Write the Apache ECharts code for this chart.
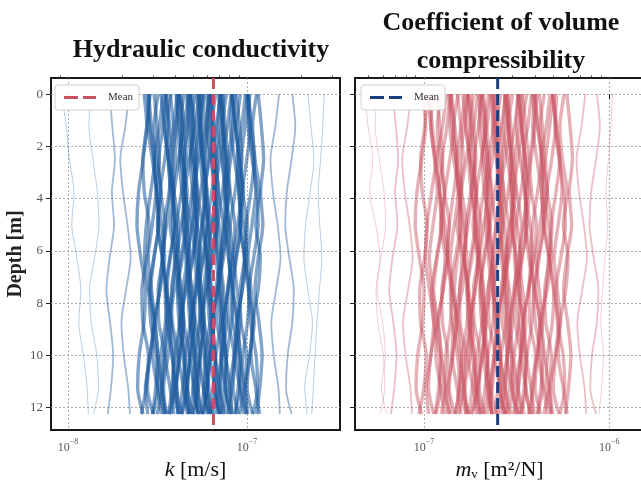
<!DOCTYPE html>
<html>
<head>
<meta charset="utf-8">
<script src="https://cdn.jsdelivr.net/npm/echarts@6/dist/echarts.min.js"></script>
<style>html,body{margin:0;padding:0;background:#fff}#c{width:641px;height:480px}</style>
</head>
<body>
<div id="c"></div>
<script>
// Depth levels of each realization [m]
const depths = [0, 1.25, 2.5, 3.75, 5, 6.25, 7.5, 8.75, 10, 11.25, 12.25];

// Hydraulic conductivity realizations, in units of 1e-8 m/s
const kUnit = 1e-8;
const kProfiles = [
  [0.92,0.98,1.02,1.08,1.05,1.12,1.18,1.15,1.22,1.28,1.30],
  [1.34,1.31,1.38,1.46,1.49,1.41,1.32,1.35,1.45,1.48,1.39],
  [1.71,1.77,1.83,1.76,1.81,1.71,1.64,1.72,1.79,1.74,1.67],
  [2.19,2.09,1.96,2.03,2.15,2.24,2.11,1.99,2.05,2.17,2.22],
  [2.66,2.76,2.63,2.48,2.43,2.55,2.71,2.66,2.50,2.45,2.63],
  [2.82,2.93,3.05,2.90,2.74,2.68,2.82,2.99,2.88,2.71,2.79],
  [2.87,2.81,2.96,3.14,3.20,3.02,2.84,2.90,3.11,3.17,2.99],
  [3.03,3.15,3.24,3.12,3.21,3.03,2.90,3.06,3.18,3.09,2.97],
  [3.40,3.24,3.05,3.14,3.34,3.47,3.27,3.08,3.18,3.37,3.43],
  [3.50,3.64,3.47,3.26,3.20,3.37,3.57,3.50,3.30,3.23,3.47],
  [3.56,3.70,3.84,3.67,3.45,3.38,3.56,3.77,3.63,3.42,3.52],
  [3.53,3.46,3.64,3.86,3.93,3.71,3.49,3.57,3.82,3.89,3.68],
  [3.73,3.89,4.00,3.85,3.96,3.73,3.58,3.77,3.92,3.81,3.66],
  [4.08,3.89,3.66,3.77,4.01,4.16,3.93,3.70,3.81,4.05,4.12],
  [4.20,4.37,4.16,3.92,3.84,4.04,4.28,4.20,3.96,3.88,4.16],
  [4.17,4.34,4.50,4.30,4.04,3.96,4.17,4.42,4.25,4.00,4.13],
  [4.14,4.06,4.27,4.53,4.61,4.36,4.10,4.18,4.48,4.57,4.31],
  [4.28,4.46,4.59,4.41,4.54,4.28,4.11,4.33,4.50,4.37,4.20],
  [4.69,4.47,4.20,4.34,4.60,4.78,4.51,4.25,4.38,4.65,4.74],
  [4.82,5.01,4.77,4.49,4.40,4.63,4.91,4.82,4.54,4.45,4.77],
  [4.79,4.98,5.17,4.93,4.65,4.55,4.79,5.08,4.89,4.60,4.74],
  [4.75,4.66,4.90,5.19,5.29,5.00,4.70,4.80,5.15,5.24,4.95],
  [4.92,5.12,5.27,5.07,5.22,4.92,4.72,4.97,5.17,5.02,4.82],
  [5.39,5.13,4.82,4.98,5.28,5.49,5.18,4.87,5.03,5.34,5.44],
  [5.41,5.62,5.36,5.04,4.94,5.20,5.51,5.41,5.09,4.99,5.36],
  [5.37,5.58,5.80,5.53,5.21,5.10,5.37,5.69,5.48,5.16,5.32],
  [5.46,5.35,5.63,5.97,6.08,5.74,5.40,5.52,5.91,6.02,5.69],
  [5.64,5.88,6.05,5.82,5.99,5.64,5.41,5.70,5.93,5.76,5.53],
  [6.18,5.89,5.54,5.71,6.07,6.30,5.95,5.60,5.77,6.13,6.24],
  [6.21,6.45,6.15,5.79,5.67,5.97,6.33,6.21,5.85,5.73,6.15],
  [6.17,6.42,6.66,6.36,5.98,5.86,6.17,6.54,6.29,5.92,6.11],
  [6.12,5.99,6.31,6.69,6.81,6.44,6.06,6.18,6.63,6.75,6.37],
  [6.33,6.59,6.78,6.52,6.72,6.33,6.07,6.40,6.65,6.46,6.20],
  [7.11,6.77,6.36,6.57,6.97,7.24,6.84,6.43,6.63,7.04,7.18],
  [7.13,7.40,7.06,6.64,6.50,6.85,7.27,7.13,6.71,6.57,7.06],
  [7.08,7.36,7.65,7.29,6.87,6.73,7.08,7.50,7.22,6.80,7.01],
  [7.03,6.89,7.25,7.69,7.83,7.40,6.96,7.11,7.61,7.76,7.32],
  [7.27,7.57,7.79,7.49,7.72,7.27,6.97,7.35,7.64,7.42,7.12],
  [8.16,7.77,7.30,7.54,8.00,8.31,7.85,7.38,7.61,8.08,8.24],
  [8.19,8.51,8.11,7.63,7.47,7.87,8.35,8.19,7.71,7.55,8.11],
  [8.32,8.65,8.99,8.57,8.07,7.90,8.32,8.82,8.49,7.99,8.24],
  [8.26,8.09,8.52,9.03,9.20,8.69,8.18,8.35,8.95,9.12,8.61],
  [8.74,9.10,9.37,9.01,9.28,8.74,8.38,8.83,9.19,8.92,8.56],
  [9.81,9.34,8.78,9.06,9.62,9.99,9.43,8.87,9.15,9.71,9.90],
  [10.07,10.46,9.98,9.39,9.19,9.68,10.27,10.07,9.49,9.29,9.98],
  [10.20,10.61,11.02,10.51,9.89,9.69,10.20,10.81,10.40,9.79,10.10],
  [10.38,10.17,10.70,11.34,11.56,10.91,10.27,10.49,11.24,11.45,10.81],
  [11.56,12.04,12.39,11.92,12.27,11.56,11.09,11.68,12.15,11.80,11.33],
  [15.12,14.40,13.54,13.97,14.83,15.41,14.54,13.68,14.11,14.98,15.26],
  [17.92,18.62,17.75,16.70,16.36,17.23,18.27,17.92,16.88,16.53,17.75],
  [21.90,22.78,23.65,22.56,21.24,20.81,21.90,23.21,22.34,21.02,21.68],
  [27.0,26.5,25.8,25.0,25.5,26.2,25.4,24.6,24.0,23.5,23.0]
];
// Visual density class of each k realization above: 0 = tail, 1 = shoulder, 2 = core
const kDensityClass = [0,0,1,1, 2,2,2,2,2,2,2,2,2,2,2,2,2,2,2,2,2,2,2,2,2,2,2,2,2,2,2,2,2,2,2,2,2,2,2,2,2,2,2,2,2,2,2,2, 1,1, 0,0];
// Further k realizations inside the dense core (1e-8 m/s)
const kProfilesCore = [
  [2.86,2.75,2.62,2.67,2.84,2.75,2.59,2.62,2.81,2.73,2.57],
  [2.76,2.87,3.02,3.10,2.96,2.81,2.93,3.05,2.87,2.78,2.99],
  [3.19,3.03,3.13,3.32,3.16,3.35,3.25,3.03,2.97,3.16,3.32],
  [3.52,3.39,3.22,3.29,3.49,3.39,3.19,3.22,3.45,3.35,3.15],
  [3.31,3.45,3.62,3.72,3.55,3.38,3.51,3.65,3.45,3.34,3.58],
  [3.76,3.57,3.68,3.91,3.72,3.94,3.83,3.57,3.50,3.72,3.91],
  [4.19,4.03,3.83,3.91,4.15,4.03,3.79,3.83,4.11,3.99,3.75],
  [4.01,4.18,4.39,4.52,4.30,4.09,4.26,4.43,4.18,4.05,4.35],
  [4.46,4.24,4.38,4.64,4.42,4.69,4.55,4.24,4.15,4.42,4.64],
  [4.85,4.67,4.44,4.53,4.81,4.67,4.40,4.44,4.76,4.63,4.35],
  [4.61,4.80,5.04,5.19,4.95,4.70,4.90,5.09,4.80,4.66,5.00],
  [5.13,4.88,5.03,5.33,5.08,5.38,5.23,4.88,4.78,5.08,5.33],
  [5.63,5.42,5.15,5.26,5.58,5.42,5.10,5.15,5.52,5.36,5.04],
  [5.23,5.45,5.72,5.89,5.61,5.34,5.56,5.78,5.45,5.28,5.67],
  [5.76,5.47,5.64,5.99,5.70,6.04,5.87,5.47,5.36,5.70,5.99],
  [6.32,6.08,5.78,5.90,6.26,6.08,5.72,5.78,6.20,6.02,5.66],
  [5.93,6.18,6.49,6.68,6.36,6.05,6.30,6.55,6.18,5.99,6.43],
  [6.69,6.36,6.55,6.95,6.62,7.02,6.82,6.36,6.22,6.62,6.95],
  [7.42,7.14,6.79,6.93,7.35,7.14,6.72,6.79,7.28,7.07,6.65],
  [6.97,7.27,7.63,7.85,7.49,7.12,7.41,7.71,7.27,7.05,7.56],
  [7.68,7.30,7.52,7.98,7.60,8.06,7.83,7.30,7.14,7.60,7.98],
  [8.63,8.30,7.90,8.06,8.55,8.30,7.81,7.90,8.47,8.22,7.73],
  [8.28,8.63,9.07,9.33,8.89,8.46,8.81,9.16,8.63,8.37,8.98],
  [9.21,8.76,9.03,9.58,9.12,9.67,9.39,8.76,8.57,9.12,9.58],
  [10.13,9.75,9.27,9.46,10.04,9.75,9.18,9.27,9.94,9.66,9.08],
  [9.93,10.35,10.87,11.18,10.66,10.14,10.55,10.97,10.35,10.03,10.76],
  [11.31,10.75,11.09,11.76,11.20,11.87,11.54,10.75,10.53,11.20,11.76]
];

// Coefficient of volume compressibility realizations, in units of 1e-7 m²/N
const mvUnit = 1e-7;
const mvProfiles = [
  [0.48,0.50,0.53,0.51,0.55,0.58,0.56,0.60,0.62,0.59,0.63],
  [0.558,0.546,0.575,0.610,0.621,0.587,0.552,0.564,0.604,0.615,0.581],
  [0.678,0.706,0.727,0.699,0.720,0.678,0.650,0.685,0.713,0.692,0.664],
  [0.854,0.813,0.764,0.789,0.837,0.870,0.821,0.772,0.797,0.846,0.862],
  [0.984,1.022,0.974,0.917,0.898,0.945,1.003,0.984,0.926,0.907,0.974],
  [1.07,1.11,1.16,1.10,1.04,1.02,1.07,1.13,1.09,1.03,1.06],
  [1.12,1.09,1.15,1.22,1.24,1.17,1.10,1.13,1.21,1.23,1.16],
  [1.18,1.22,1.26,1.21,1.25,1.18,1.13,1.19,1.24,1.20,1.15],
  [1.32,1.26,1.18,1.22,1.30,1.35,1.27,1.20,1.24,1.31,1.34],
  [1.39,1.45,1.38,1.30,1.27,1.34,1.42,1.39,1.31,1.28,1.38],
  [1.41,1.47,1.52,1.45,1.37,1.34,1.41,1.50,1.44,1.35,1.40],
  [1.41,1.38,1.45,1.54,1.57,1.48,1.39,1.42,1.52,1.55,1.47],
  [1.52,1.58,1.63,1.57,1.61,1.52,1.46,1.54,1.60,1.55,1.49],
  [1.67,1.59,1.50,1.54,1.64,1.70,1.61,1.51,1.56,1.65,1.69],
  [1.71,1.78,1.69,1.59,1.56,1.64,1.74,1.71,1.61,1.58,1.69],
  [1.74,1.81,1.88,1.79,1.69,1.65,1.74,1.84,1.78,1.67,1.72],
  [1.73,1.69,1.78,1.89,1.92,1.82,1.71,1.74,1.87,1.91,1.80],
  [1.78,1.86,1.91,1.84,1.89,1.78,1.71,1.80,1.88,1.82,1.75],
  [1.95,1.86,1.75,1.80,1.92,1.99,1.88,1.77,1.82,1.93,1.97],
  [2.06,2.14,2.04,1.92,1.88,1.98,2.10,2.06,1.94,1.90,2.04],
  [2.04,2.12,2.20,2.10,1.98,1.94,2.04,2.16,2.08,1.96,2.02],
  [2.03,1.99,2.09,2.22,2.26,2.13,2.01,2.05,2.20,2.24,2.11],
  [2.10,2.18,2.25,2.16,2.23,2.10,2.01,2.12,2.20,2.14,2.05],
  [2.30,2.19,2.06,2.12,2.26,2.34,2.21,2.08,2.15,2.28,2.32],
  [2.36,2.45,2.34,2.20,2.15,2.27,2.41,2.36,2.22,2.18,2.34],
  [2.35,2.44,2.54,2.42,2.28,2.23,2.35,2.49,2.40,2.26,2.33],
  [2.39,2.34,2.46,2.61,2.66,2.51,2.36,2.41,2.58,2.63,2.49],
  [2.46,2.56,2.64,2.54,2.61,2.46,2.36,2.49,2.59,2.51,2.41],
  [2.76,2.63,2.47,2.55,2.71,2.81,2.66,2.50,2.58,2.74,2.79],
  [2.77,2.88,2.74,2.58,2.53,2.66,2.83,2.77,2.61,2.56,2.74],
  [2.76,2.87,2.98,2.84,2.68,2.62,2.76,2.93,2.82,2.65,2.73],
  [2.74,2.68,2.82,2.99,3.05,2.88,2.71,2.76,2.96,3.02,2.85],
  [2.83,2.95,3.04,2.92,3.01,2.83,2.72,2.86,2.98,2.89,2.77],
  [3.25,3.09,2.91,3.00,3.18,3.31,3.12,2.94,3.03,3.21,3.28],
  [3.26,3.38,3.22,3.03,2.97,3.13,3.32,3.26,3.07,3.00,3.22],
  [3.24,3.37,3.50,3.34,3.14,3.08,3.24,3.43,3.31,3.11,3.21],
  [3.21,3.15,3.31,3.51,3.58,3.38,3.18,3.24,3.48,3.54,3.34],
  [3.40,3.54,3.64,3.51,3.61,3.40,3.26,3.44,3.57,3.47,3.33],
  [3.81,3.63,3.41,3.52,3.74,3.88,3.67,3.45,3.56,3.78,3.85],
  [3.83,3.98,3.79,3.57,3.50,3.68,3.91,3.83,3.61,3.53,3.79],
  [3.98,4.14,4.30,4.10,3.86,3.78,3.98,4.22,4.06,3.82,3.94],
  [3.95,3.87,4.07,4.31,4.40,4.15,3.91,3.99,4.27,4.36,4.11],
  [4.19,4.36,4.48,4.31,4.44,4.19,4.01,4.23,4.40,4.27,4.10],
  [4.80,4.57,4.30,4.43,4.71,4.89,4.62,4.34,4.48,4.75,4.84],
  [4.93,5.13,4.89,4.60,4.50,4.74,5.03,4.93,4.65,4.55,4.89],
  [5.01,5.21,5.41,5.16,4.86,4.76,5.01,5.31,5.11,4.81,4.96],
  [5.21,5.10,5.37,5.69,5.80,5.48,5.16,5.26,5.64,5.75,5.42],
  [5.91,6.15,6.33,6.09,6.27,5.91,5.67,5.97,6.21,6.03,5.79],
  [7.43,7.08,6.66,6.87,7.29,7.58,7.15,6.73,6.94,7.36,7.51],
  [8.57,8.90,8.49,7.99,7.82,8.24,8.74,8.57,8.07,7.90,8.49],
  [10.4,10.2,9.9,9.6,9.8,9.5,9.2,9.0,9.3,9.1,8.8]
];
const mvDensityClass = [0,0,1,1, 2,2,2,2,2,2,2,2,2,2,2,2,2,2,2,2,2,2,2,2,2,2,2,2,2,2,2,2,2,2,2,2,2,2,2,2,2,2,2,2,2,2,2,2, 1,1, 0];
// Further m_v realizations inside the dense core (1e-7 m²/N)
const mvProfilesCore = [
  [1.05,1.01,0.96,0.98,1.04,1.01,0.95,0.96,1.03,1.00,0.94],
  [1.05,1.09,1.14,1.18,1.12,1.07,1.11,1.16,1.09,1.06,1.13],
  [1.24,1.18,1.22,1.29,1.23,1.30,1.27,1.18,1.16,1.23,1.29],
  [1.38,1.33,1.26,1.29,1.37,1.33,1.25,1.26,1.35,1.31,1.24],
  [1.36,1.42,1.49,1.53,1.46,1.39,1.44,1.50,1.42,1.37,1.47],
  [1.53,1.45,1.49,1.59,1.51,1.60,1.56,1.45,1.42,1.51,1.59],
  [1.72,1.65,1.57,1.60,1.70,1.65,1.56,1.57,1.68,1.64,1.54],
  [1.62,1.68,1.77,1.82,1.73,1.65,1.72,1.79,1.68,1.63,1.75],
  [1.86,1.77,1.82,1.93,1.84,1.95,1.90,1.77,1.73,1.84,1.93],
  [2.05,1.97,1.87,1.91,2.03,1.97,1.85,1.87,2.01,1.95,1.83],
  [1.97,2.05,2.15,2.21,2.11,2.01,2.09,2.17,2.05,1.99,2.13],
  [2.24,2.13,2.20,2.33,2.22,2.35,2.29,2.13,2.09,2.22,2.33],
  [2.46,2.37,2.25,2.30,2.44,2.37,2.23,2.25,2.41,2.34,2.20],
  [2.29,2.39,2.51,2.58,2.46,2.34,2.43,2.53,2.39,2.31,2.48],
  [2.60,2.47,2.54,2.70,2.57,2.72,2.65,2.47,2.42,2.57,2.70],
  [2.88,2.77,2.64,2.69,2.86,2.77,2.61,2.64,2.83,2.75,2.58],
  [2.72,2.83,2.97,3.06,2.92,2.77,2.89,3.00,2.83,2.75,2.95],
  [3.01,2.86,2.95,3.13,2.98,3.16,3.07,2.86,2.80,2.98,3.13],
  [3.39,3.26,3.10,3.17,3.36,3.26,3.07,3.10,3.33,3.23,3.04],
  [3.21,3.35,3.52,3.62,3.45,3.28,3.41,3.55,3.35,3.24,3.48],
  [3.59,3.41,3.51,3.73,3.55,3.76,3.66,3.41,3.34,3.55,3.73],
  [4.08,3.93,3.73,3.81,4.04,3.93,3.70,3.73,4.00,3.89,3.66],
  [3.94,4.11,4.32,4.44,4.23,4.03,4.19,4.36,4.11,3.98,4.27],
  [4.46,4.24,4.38,4.64,4.42,4.69,4.55,4.24,4.15,4.42,4.64],
  [4.96,4.77,4.54,4.63,4.91,4.77,4.49,4.54,4.87,4.73,4.45],
  [4.94,5.15,5.41,5.56,5.30,5.04,5.25,5.46,5.15,4.99,5.36],
  [5.71,5.42,5.59,5.93,5.65,5.99,5.82,5.42,5.31,5.65,5.93]
];

// Means
const kMean = 6.5e-8;
const mvMean = 2.5e-7;

// Axis ticks
const depthTicks = [0, 2, 4, 6, 8, 10, 12];
const depthRange = [-0.62, 12.86];
const kRange = [8.04e-9, 3.31e-7];
const mvRange = [4.25e-8, 1.54e-6];
const kMajorTicks = [1e-8, 1e-7];
const kMinorTicks = [9e-9, 2e-8, 3e-8, 4e-8, 5e-8, 6e-8, 7e-8, 8e-8, 9e-8, 2e-7, 3e-7];
const mvMajorTicks = [1e-7, 1e-6];
const mvMinorTicks = [5e-8, 6e-8, 7e-8, 8e-8, 9e-8, 2e-7, 3e-7, 4e-7, 5e-7, 6e-7, 7e-7, 8e-7, 9e-7];

const SERIF = "'Liberation Serif', 'DejaVu Serif', serif";
const BLUE = '#1b5a9c';
const RED = '#c8505f';
const NAVY = '#1b3f7e';
const DASH_ICON = 'path://M0 0H14V3H0Z M19 0H32V3H19Z';

const chart = echarts.init(document.getElementById('c'), null, {renderer: 'canvas'});

function majorAxis(gridIndex, range, ticks, name) {
  return {
    type: 'log', logBase: 10, gridIndex, min: range[0], max: range[1],
    axisLine: {show: false},
    axisTick: {show: true, length: 5, customValues: ticks, lineStyle: {color: '#222', width: 1}},
    axisLabel: {
      customValues: ticks, margin: 8, fontFamily: SERIF, color: '#555',
      formatter: v => '{b|10}{s|−' + Math.abs(Math.round(Math.log10(v))) + '}',
      rich: {
        b: {fontFamily: SERIF, fontSize: 12, color: '#555', lineHeight: 20},
        s: {fontFamily: SERIF, fontSize: 8, color: '#555', verticalAlign: 'top', lineHeight: 10}
      }
    },
    splitLine: {show: true, lineStyle: {color: '#999', type: [2, 2], width: 0.8}},
    name, nameLocation: 'middle', nameGap: 22,
    nameTextStyle: {
      fontFamily: SERIF, fontSize: 22, color: '#111',
      rich: {
        i: {fontFamily: SERIF, fontSize: 22, fontStyle: 'italic', color: '#111'},
        n: {fontFamily: SERIF, fontSize: 22, color: '#111'},
        sub: {fontFamily: SERIF, fontSize: 13, color: '#111', verticalAlign: 'bottom', lineHeight: 14}
      }
    }
  };
}
function minorAxis(gridIndex, range, ticks) {
  return {
    type: 'log', logBase: 10, gridIndex, min: range[0], max: range[1],
    axisLine: {show: false}, axisLabel: {show: false}, splitLine: {show: false},
    axisTick: {show: true, length: 2.5, customValues: ticks, lineStyle: {color: '#222', width: 0.8}}
  };
}
function depthAxis(gridIndex, showLabels) {
  return {
    type: 'value', gridIndex, inverse: true, min: depthRange[0], max: depthRange[1],
    axisLine: {show: false},
    axisTick: {show: true, length: 5, customValues: depthTicks, lineStyle: {color: '#222'}},
    axisLabel: {show: showLabels, customValues: depthTicks, fontFamily: SERIF, fontSize: 13, color: '#555', margin: 8},
    splitLine: {show: true, lineStyle: {color: '#999', type: [2, 2], width: 0.8}},
    name: showLabels ? 'Depth [m]' : '', nameLocation: 'middle', nameGap: 25,
    nameTextStyle: {fontFamily: SERIF, fontSize: 20, fontWeight: 'bold', color: '#222'}
  };
}

// line width / opacity per density class (tail, shoulder, core)
const kStyles = [{width: 1, opacity: 0.3}, {width: 1.8, opacity: 0.42}, {width: 3.4, opacity: 0.55}];
const mvStyles = [{width: 1, opacity: 0.28}, {width: 1.8, opacity: 0.36}, {width: 3.4, opacity: 0.45}];

const series = [];
function addProfiles(list, classes, unit, xi, yi, color, styles) {
  list.forEach((p, idx) => series.push({
    type: 'line', xAxisIndex: xi, yAxisIndex: yi, symbol: 'none', smooth: 0.25, silent: true,
    data: p.map((v, i) => [v * unit, depths[i]]),
    lineStyle: Object.assign({color}, styles[classes ? classes[idx] : 2]), z: 2
  }));
}
addProfiles(kProfiles, kDensityClass, kUnit, 0, 0, BLUE, kStyles);
addProfiles(kProfilesCore, null, kUnit, 0, 0, BLUE, kStyles);
addProfiles(mvProfiles, mvDensityClass, mvUnit, 2, 1, RED, mvStyles);
addProfiles(mvProfilesCore, null, mvUnit, 2, 1, RED, mvStyles);

series.push({
  name: 'Mean k', type: 'line', xAxisIndex: 0, yAxisIndex: 0, symbol: 'none', silent: true,
  data: [[kMean, depthRange[0]], [kMean, depthRange[1]]],
  lineStyle: {color: RED, width: 3, type: [11, 5]}, itemStyle: {color: RED}, z: 5
});
series.push({
  name: 'Mean mv', type: 'line', xAxisIndex: 2, yAxisIndex: 1, symbol: 'none', silent: true,
  data: [[mvMean, depthRange[0]], [mvMean, depthRange[1]]],
  lineStyle: {color: NAVY, width: 3, type: [11, 5]}, itemStyle: {color: NAVY}, z: 5
});

const legendCommon = {
  orient: 'vertical', itemWidth: 32, itemHeight: 3, padding: [7, 6, 7, 9],
  icon: DASH_ICON,
  backgroundColor: 'rgba(255,255,255,0.9)', borderColor: '#d0d0d0', borderWidth: 1, borderRadius: 3,
  textStyle: {fontFamily: SERIF, fontSize: 11, color: '#333', padding: [0, 0, 0, 7]},
  formatter: () => 'Mean', selectedMode: false
};

const gridCommon = {top: 78, width: 289, height: 352, show: true, borderColor: '#1a1a1a', borderWidth: 2,
  backgroundColor: 'transparent', containLabel: false, outerBoundsMode: 'none'};

chart.setOption({
  animation: false,
  backgroundColor: '#fff',
  title: [
    {text: 'Hydraulic conductivity', left: 196, top: 32, textAlign: 'center',
     textStyle: {fontFamily: SERIF, fontWeight: 'bold', fontSize: 26, color: '#111'}},
    {text: 'Coefficient of volume\ncompressibility', left: 496, top: -1, textAlign: 'center',
     textStyle: {fontFamily: SERIF, fontWeight: 'bold', fontSize: 26, color: '#111', lineHeight: 38}}
  ],
  legend: [
    Object.assign({data: ['Mean k'], left: 55, top: 85}, legendCommon),
    Object.assign({data: ['Mean mv'], left: 361, top: 85}, legendCommon)
  ],
  grid: [
    Object.assign({left: 51}, gridCommon),
    Object.assign({left: 355}, gridCommon)
  ],
  xAxis: [
    majorAxis(0, kRange, kMajorTicks, '{i|k}{n| [m/s]}'),
    minorAxis(0, kRange, kMinorTicks),
    majorAxis(1, mvRange, mvMajorTicks, '{i|m}{sub|v}{n| [m²/N]}'),
    minorAxis(1, mvRange, mvMinorTicks)
  ],
  yAxis: [depthAxis(0, true), depthAxis(1, false)],
  series
});
</script>
</body>
</html>
